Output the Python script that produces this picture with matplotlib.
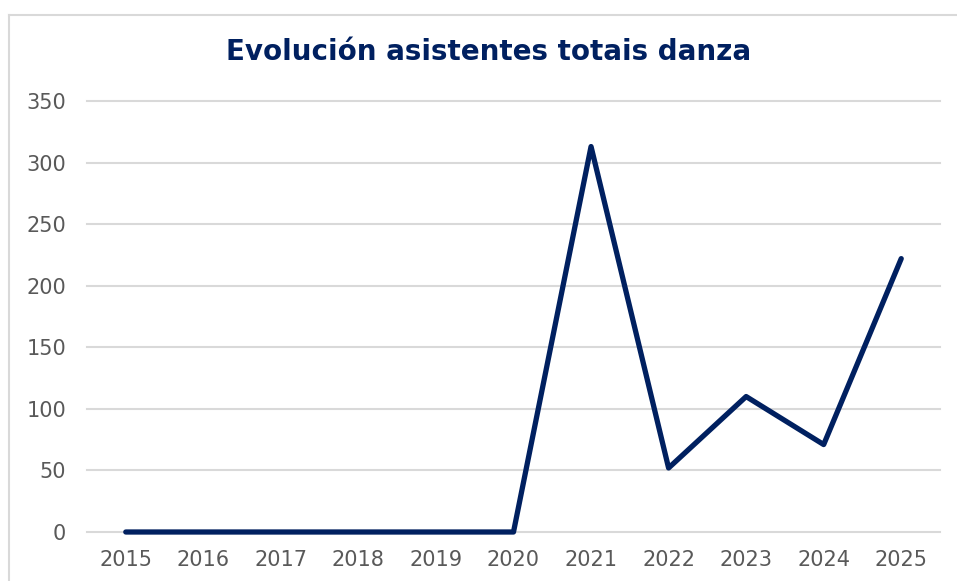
import matplotlib.pyplot as plt
from matplotlib.lines import Line2D

# datos
anos = ["2015", "2016", "2017", "2018", "2019", "2020",
        "2021", "2022", "2023", "2024", "2025"]
asistentes = [0, 0, 0, 0, 0, 0, 313, 52, 110, 71, 222]

AZUL = "#002060"
GRIS = "#595959"
GRELLA = "#d9d9d9"

fig = plt.figure(figsize=(9.57, 5.81), dpi=100)
ax = fig.add_axes([87/957, 49/581, 853/957, 431/581])

# marco do gráfico (só se ven o bordo superior e o esquerdo)
xb, yb = 8.5/957, 1 - 14.5/581
fig.lines.append(Line2D([xb, 1.0], [yb, yb], transform=fig.transFigure,
                        color=GRELLA, linewidth=1.5))
fig.lines.append(Line2D([xb, xb], [0, yb], transform=fig.transFigure,
                        color=GRELLA, linewidth=1.5))

x = list(range(len(anos)))
ax.plot(x, asistentes, color=AZUL, linewidth=3.8,
        solid_capstyle="round", solid_joinstyle="round", zorder=3,
        clip_on=False)

ax.set_xlim(-0.5, len(anos) - 0.5)
ax.set_ylim(0, 350)
ax.set_yticks(range(0, 351, 50))
ax.set_xticks(x)
ax.set_xticklabels(anos)

ax.grid(axis="y", color=GRELLA, linewidth=1.5)
for gl in ax.get_ygridlines():
    gl.set_clip_on(False)
ax.set_axisbelow(True)
for s in ax.spines.values():
    s.set_visible(False)
ax.tick_params(axis="both", length=0, labelsize=15, labelcolor=GRIS)
ax.tick_params(axis="y", pad=15)
ax.tick_params(axis="x", pad=13)

fig.text(489/957, 1 - 52/581, "Evolución asistentes totais danza",
         ha="center", va="center", fontsize=20, fontweight="bold",
         color=AZUL)

fig.savefig("out.png", dpi=100)
